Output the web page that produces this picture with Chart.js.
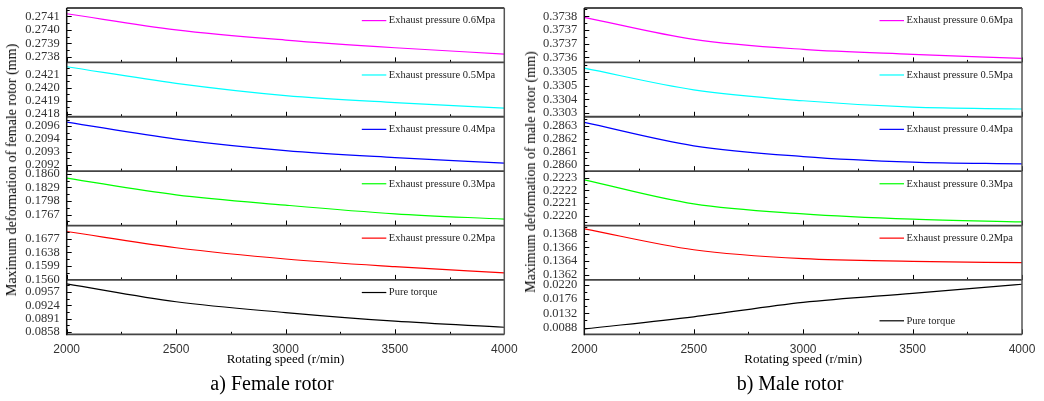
<!DOCTYPE html>
<html><head><meta charset="utf-8">
<script src="https://cdn.jsdelivr.net/npm/chart.js@4.4.0/dist/chart.umd.min.js"></script>
<style>
html,body{margin:0;padding:0;background:#fff;width:1044px;height:401px;overflow:hidden;position:relative;}
#c1{position:absolute;left:0;top:0;}
#c2{position:absolute;left:520px;top:0;}
.cap{position:absolute;font-family:"Liberation Serif";font-size:20px;color:#000;white-space:nowrap;transform:translate(-50%,-50%);}
.yt{position:absolute;font-family:"Liberation Serif";font-size:14px;color:#000;white-space:nowrap;transform:translate(-50%,-50%) rotate(-90deg);}
</style></head>
<body>
<canvas id="c1" width="520" height="401"></canvas>
<canvas id="c2" width="524" height="401"></canvas>
<div class="yt" style="left:12px;top:170px;">Maximum deformation of female rotor (mm)</div>
<div class="yt" style="left:531px;top:172px;">Maximum deformation of male rotor (mm)</div>
<div class="cap" style="left:272px;top:383px;">a) Female rotor</div>
<div class="cap" style="left:790px;top:383px;">b) Male rotor</div>
<script>
// ---- data ----
const speeds = [2000, 2500, 3000, 3500, 4000];
const xTickValues = [2000, 2500, 3000, 3500, 4000];
const seriesNames = ['Exhaust pressure 0.6Mpa', 'Exhaust pressure 0.5Mpa', 'Exhaust pressure 0.4Mpa',
  'Exhaust pressure 0.3Mpa', 'Exhaust pressure 0.2Mpa', 'Pure torque'];

const female06 = [0.274119, 0.274000, 0.273924, 0.273867, 0.273820];
const female05 = [0.242161, 0.242034, 0.241940, 0.241886, 0.241844];
const female04 = [0.209589, 0.209425, 0.209315, 0.209248, 0.209194];
const female03 = [0.185018, 0.181203, 0.178850, 0.176862, 0.175651];
const female02 = [0.169793, 0.165119, 0.161879, 0.159671, 0.157864];
const femaleTorque = [0.097695, 0.093280, 0.090612, 0.088466, 0.086970];

const male06 = [0.373795, 0.373688, 0.373639, 0.373615, 0.373595];
const male05 = [0.330537, 0.330442, 0.330394, 0.330366, 0.330358];
const male04 = [0.286326, 0.286145, 0.286062, 0.286019, 0.286005];
const male03 = [0.222282, 0.222094, 0.222016, 0.221974, 0.221953];
const male02 = [0.136873, 0.136566, 0.136435, 0.136396, 0.136377];
const maleTorque = [0.008397, 0.012115, 0.016546, 0.019335, 0.022124];

// y tick values and their printed labels, top subplot first
const femaleTickValues = [
  [0.2741, 0.2740, 0.2739, 0.2738],
  [0.2421, 0.2420, 0.2419, 0.2418],
  [0.20955, 0.209427, 0.209303, 0.20918],
  [0.1860, 0.1829, 0.1798, 0.1767],
  [0.1677, 0.1638, 0.1599, 0.1560],
  [0.0957, 0.0924, 0.0891, 0.0858]
];
const femaleTickLabels = [
  ['0.2741', '0.2740', '0.2739', '0.2738'],
  ['0.2421', '0.2420', '0.2419', '0.2418'],
  ['0.2096', '0.2094', '0.2093', '0.2092'],
  ['0.1860', '0.1829', '0.1798', '0.1767'],
  ['0.1677', '0.1638', '0.1599', '0.1560'],
  ['0.0957', '0.0924', '0.0891', '0.0858']
];
const femaleRangeMin = [0.2737584, 0.2417771, 0.209117, 0.174187, 0.155857, 0.085226];
const femaleRangeMax = [0.2741616, 0.2421947, 0.209640, 0.186617, 0.171514, 0.098693];

const maleTickValues = [
  [0.37380, 0.373733, 0.373667, 0.37360],
  [0.33052, 0.33046, 0.33040, 0.33034],
  [0.2863, 0.2862, 0.2861, 0.2860],
  [0.2223, 0.2222, 0.2221, 0.2220],
  [0.1368, 0.1366, 0.1364, 0.1362],
  [0.0220, 0.0176, 0.0132, 0.0088]
];
const maleTickLabels = [
  ['0.3738', '0.3737', '0.3737', '0.3736'],
  ['0.3305', '0.3305', '0.3304', '0.3303'],
  ['0.2863', '0.2862', '0.2861', '0.2860'],
  ['0.2223', '0.2222', '0.2221', '0.2220'],
  ['0.1368', '0.1366', '0.1364', '0.1362'],
  ['0.0220', '0.0176', '0.0132', '0.0088']
];
const maleRangeMin = [0.3735756, 0.3303239, 0.2859488, 0.2219240, 0.1361241, 0.006755];
const maleRangeMax = [0.3738405, 0.3305623, 0.2863698, 0.2223501, 0.1369212, 0.023456];

const colors = ['#ff00ff', '#00ffff', '#0000ff', '#00ff00', '#ff0000', '#000000'];

// ---- plugin: frame, inward ticks, per-subplot legends ----
const framePlugin = {
  id: 'frameTicks',
  afterDatasetsDraw(chart, args, opts) {
    const ctx = chart.ctx, ca = chart.chartArea, xs = chart.scales.x;
    ctx.save();
    opts.yIds.forEach((id, i) => {
      const s = chart.scales[id];
      ctx.strokeStyle = '#000';
      ctx.lineWidth = 1;
      const maj = s.ticks.map(t => t.value);
      const step = (maj[0] - maj[maj.length - 1]) / (maj.length - 1);
      for (let k = -12; k <= 12; k++) {
        const v = maj[0] + k * step / 2;
        if (v < s.min || v > s.max) continue;
        const y = Math.round(s.getPixelForValue(v)) + 0.5;
        const len = (k % 2 === 0) ? 5 : 3;
        ctx.beginPath(); ctx.moveTo(ca.left, y); ctx.lineTo(ca.left + len, y); ctx.stroke();
      }
      for (let v = xs.min; v <= xs.max; v += 250) {
        const x = Math.round(xs.getPixelForValue(v)) + 0.5;
        const len = (v % 500 === 0) ? 5 : 2.5;
        ctx.beginPath(); ctx.moveTo(x, s.bottom); ctx.lineTo(x, s.bottom - len); ctx.stroke();
      }
      // subplot bottom line
      ctx.strokeStyle = '#444';
      ctx.lineWidth = 1.8;
      ctx.beginPath(); ctx.moveTo(ca.left, s.bottom); ctx.lineTo(ca.right, s.bottom); ctx.stroke();
      // legend
      const ds = chart.data.datasets[i];
      const ly = opts.legendBottom[i] ? s.bottom - 13.5 : s.top + 12.6;
      ctx.strokeStyle = ds.borderColor;
      ctx.lineWidth = 1.2;
      ctx.beginPath(); ctx.moveTo(ca.right - 142.5, ly); ctx.lineTo(ca.right - 118, ly); ctx.stroke();
      ctx.fillStyle = '#222';
      ctx.font = '10.5px "Liberation Serif"';
      ctx.textBaseline = 'middle';
      ctx.textAlign = 'left';
      ctx.fillText(ds.label, ca.right - 115.5, ly);
    });
    // top, left, right borders
    ctx.strokeStyle = '#111'; ctx.lineWidth = 1.5;
    ctx.beginPath(); ctx.moveTo(ca.left, ca.top); ctx.lineTo(ca.right, ca.top); ctx.stroke();
    ctx.beginPath(); ctx.moveTo(ca.left, ca.top); ctx.lineTo(ca.left, ca.bottom + 1); ctx.stroke();
    ctx.strokeStyle = '#555'; ctx.lineWidth = 1.5;
    ctx.beginPath(); ctx.moveTo(ca.right, ca.top); ctx.lineTo(ca.right, ca.bottom); ctx.stroke();
    ctx.restore();
  }
};

function buildChart(canvasId, seriesList, tickVals, tickLabs, mins, maxs, yWidth, padRight, legendBottom) {
  const datasets = seriesList.map((vals, i) => ({
    label: seriesNames[i],
    data: speeds.map((x, j) => ({x: x, y: vals[j]})),
    borderColor: colors[i],
    backgroundColor: colors[i],
    borderWidth: 1.2,
    pointRadius: 0,
    cubicInterpolationMode: 'monotone',
    yAxisID: 'y' + i
  }));
  const scales = {
    x: {
      type: 'linear', min: 2000, max: 4000,
      grid: {display: false, drawTicks: false},
      border: {display: false},
      afterBuildTicks: (sc) => { sc.ticks = xTickValues.map(v => ({value: v})); },
      ticks: {color: '#333', font: {family: 'Liberation Sans', size: 12}, padding: 8, autoSkip: false, maxRotation: 0,
        callback: (v) => String(v)},
      title: {display: true, text: 'Rotating speed (r/min)', color: '#000',
        font: {family: 'Liberation Serif', size: 13, lineHeight: 1}, padding: {top: 0, bottom: 0}},
      afterFit: (sc) => { sc.height = 32; sc.paddingLeft = 0; sc.paddingRight = 0; }
    }
  };
  seriesList.forEach((vals, i) => {
    scales['y' + i] = {
      type: 'linear', position: 'left', stack: 'panel', stackWeight: 1, weight: 10 - i,
      min: mins[i], max: maxs[i],
      grid: {display: false, drawTicks: false},
      border: {display: false},
      afterBuildTicks: (sc) => { sc.ticks = tickVals[i].map(v => ({value: v})); },
      ticks: {color: '#333', font: {family: 'Liberation Serif', size: 12.5}, padding: 7, autoSkip: false,
        callback: (v, idx) => tickLabs[i][idx]},
      afterFit: (sc) => { sc.width = yWidth; sc.paddingTop = 0; sc.paddingBottom = 0; }
    };
  });
  return new Chart(document.getElementById(canvasId), {
    type: 'line',
    data: {datasets},
    options: {
      responsive: false, animation: false,
      layout: {padding: {top: 8, right: padRight, bottom: 34.7, left: 0}},
      plugins: {legend: {display: false}, tooltip: {enabled: false},
        frameTicks: {yIds: seriesList.map((v, i) => 'y' + i), legendBottom}},
      scales
    },
    plugins: [framePlugin]
  });
}

buildChart('c1', [female06, female05, female04, female03, female02, femaleTorque],
  femaleTickValues, femaleTickLabels, femaleRangeMin, femaleRangeMax, 66.7, 15.7,
  [false, false, false, false, false, false]);
buildChart('c2', [male06, male05, male04, male03, male02, maleTorque],
  maleTickValues, maleTickLabels, maleRangeMin, maleRangeMax, 64.3, 22,
  [false, false, false, false, false, true]);
</script>
</body></html>
